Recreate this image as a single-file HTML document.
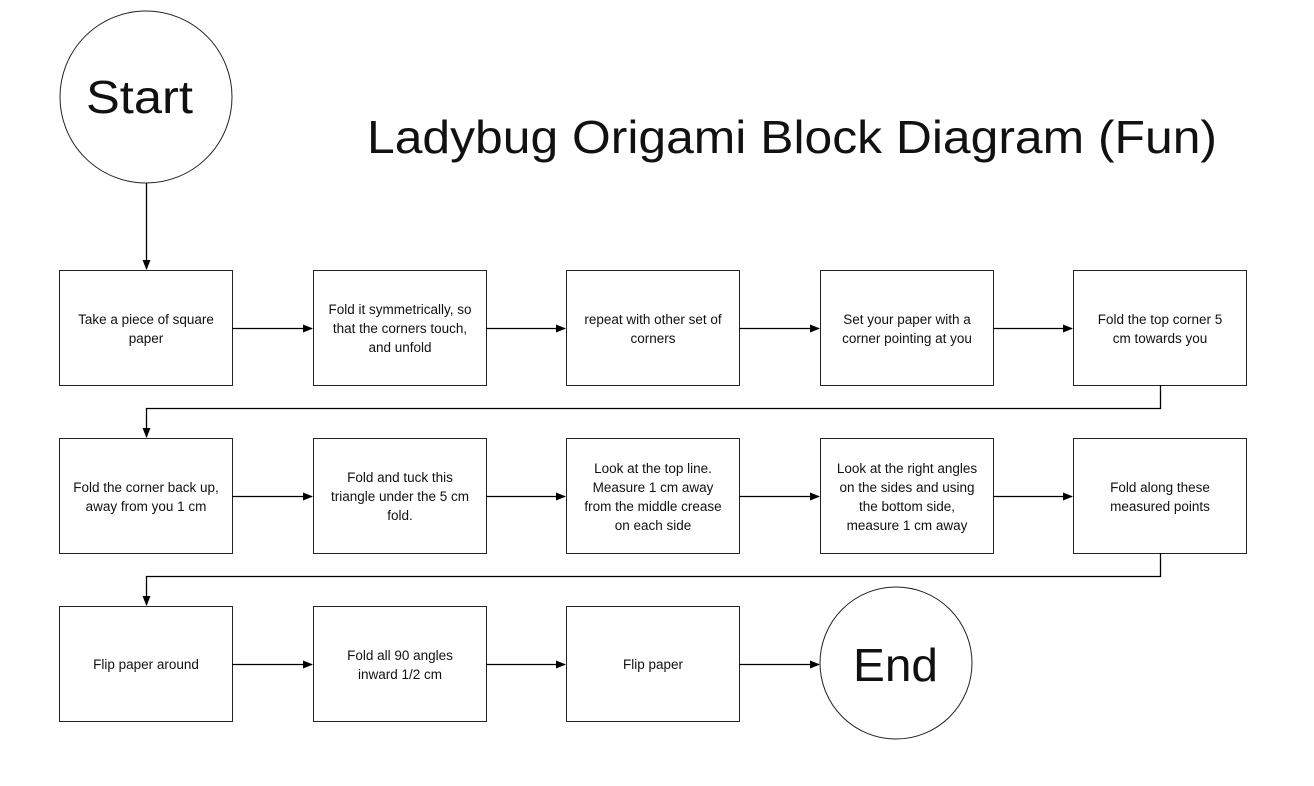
<!DOCTYPE html>
<html><head><meta charset="utf-8"><style>
html,body{margin:0;padding:0;background:#fff}
svg{display:block}
text{font-family:"Liberation Sans",sans-serif;fill:#111}
</style></head><body>
<svg width="1314" height="786" viewBox="0 0 1314 786" xmlns="http://www.w3.org/2000/svg">
<defs><marker id="a" markerWidth="10" markerHeight="10" refX="9" refY="5" orient="auto" markerUnits="userSpaceOnUse"><path d="M0,1 L10,5 L0,9 z" fill="#000"/></marker></defs>
<g fill="#fff" stroke="#222" stroke-width="1">
<circle cx="146" cy="97" r="86"/>
<circle cx="896" cy="663" r="76"/>
<rect x="59.5" y="270.5" width="173" height="115"/>
<rect x="313.5" y="270.5" width="173" height="115"/>
<rect x="566.5" y="270.5" width="173" height="115"/>
<rect x="820.5" y="270.5" width="173" height="115"/>
<rect x="1073.5" y="270.5" width="173" height="115"/>
<rect x="59.5" y="438.5" width="173" height="115"/>
<rect x="313.5" y="438.5" width="173" height="115"/>
<rect x="566.5" y="438.5" width="173" height="115"/>
<rect x="820.5" y="438.5" width="173" height="115"/>
<rect x="1073.5" y="438.5" width="173" height="115"/>
<rect x="59.5" y="606.5" width="173" height="115"/>
<rect x="313.5" y="606.5" width="173" height="115"/>
<rect x="566.5" y="606.5" width="173" height="115"/>
</g>
<g stroke="#000" stroke-width="1.3" fill="none" marker-end="url(#a)">
<path d="M146.5 183 V269"/>
<path d="M232 328.5 H312"/><path d="M486 328.5 H565"/><path d="M739 328.5 H819"/><path d="M993 328.5 H1072"/>
<path d="M1160.5 385 V408.5 H146.5 V437"/>
<path d="M232 496.5 H312"/><path d="M486 496.5 H565"/><path d="M739 496.5 H819"/><path d="M993 496.5 H1072"/>
<path d="M1160.5 553 V576.5 H146.5 V605"/>
<path d="M232 664.5 H312"/><path d="M486 664.5 H565"/><path d="M739 664.5 H819"/>
</g>
<text x="86" y="113" font-size="46" textLength="107" lengthAdjust="spacingAndGlyphs">Start</text>
<text x="853" y="681" font-size="46" textLength="85" lengthAdjust="spacingAndGlyphs">End</text>
<text x="367" y="153" font-size="46" textLength="850" lengthAdjust="spacingAndGlyphs">Ladybug Origami Block Diagram (Fun)</text>
<g font-size="13.5" text-anchor="middle">
<text x="146" y="324">Take a piece of square</text><text x="146" y="343">paper</text>
<text x="400" y="314">Fold it symmetrically, so</text><text x="400" y="333">that the corners touch,</text><text x="400" y="352">and unfold</text>
<text x="653" y="324">repeat with other set of</text><text x="653" y="343">corners</text>
<text x="907" y="324">Set your paper with a</text><text x="907" y="343">corner pointing at you</text>
<text x="1160" y="324">Fold the top corner 5</text><text x="1160" y="343">cm towards you</text>
<text x="146" y="492">Fold the corner back up,</text><text x="146" y="511">away from you 1 cm</text>
<text x="400" y="482">Fold and tuck this</text><text x="400" y="501">triangle under the 5 cm</text><text x="400" y="520">fold.</text>
<text x="653" y="473">Look at the top line.</text><text x="653" y="492">Measure 1 cm away</text><text x="653" y="511">from the middle crease</text><text x="653" y="530">on each side</text>
<text x="907" y="473">Look at the right angles</text><text x="907" y="492">on the sides and using</text><text x="907" y="511">the bottom side,</text><text x="907" y="530">measure 1 cm away</text>
<text x="1160" y="492">Fold along these</text><text x="1160" y="511">measured points</text>
<text x="146" y="669">Flip paper around</text>
<text x="400" y="660">Fold all 90 angles</text><text x="400" y="679">inward 1/2 cm</text>
<text x="653" y="669">Flip paper</text>
</g>
</svg>
</body></html>
